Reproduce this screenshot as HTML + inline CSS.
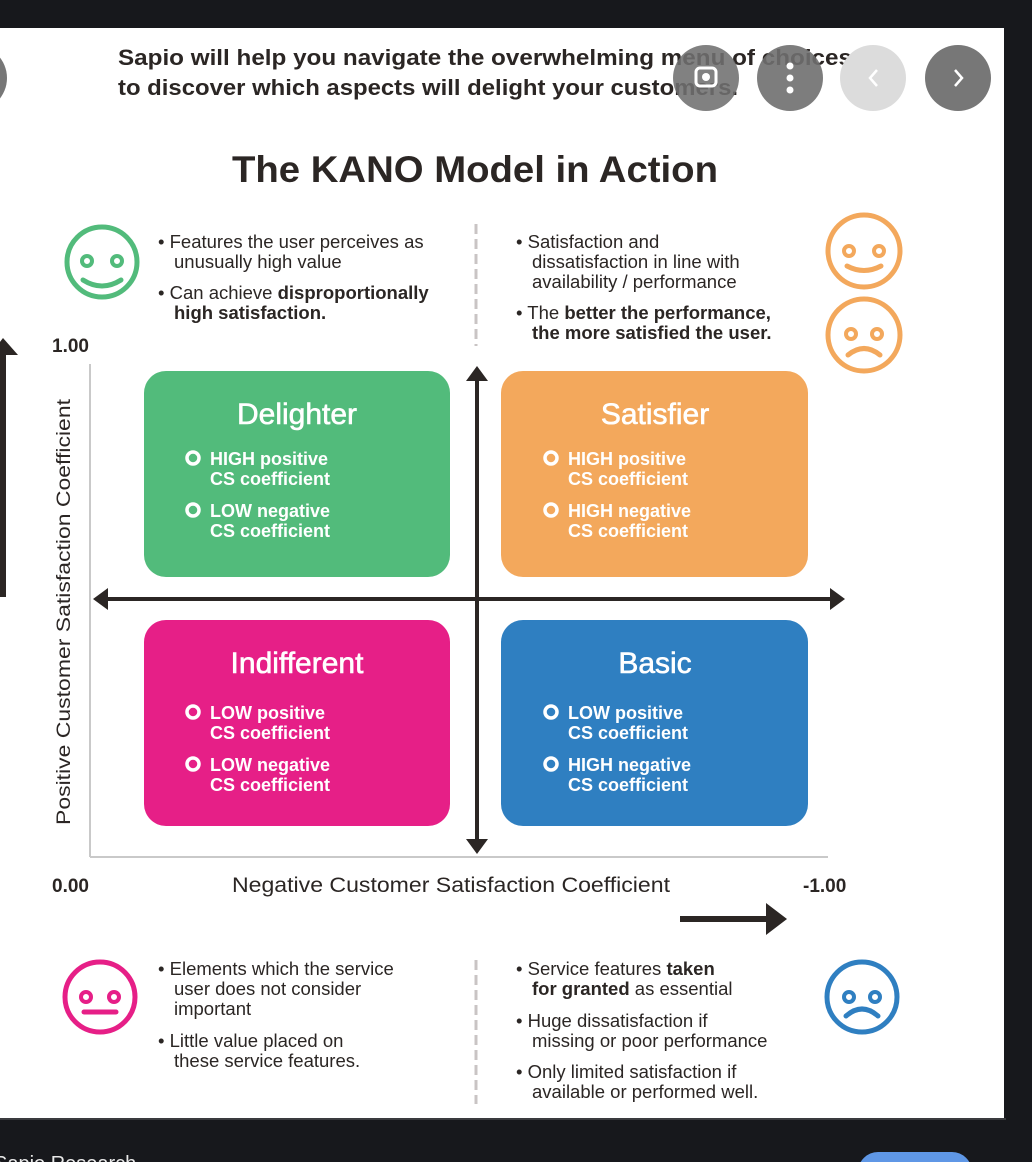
<!DOCTYPE html>
<html><head><meta charset="utf-8"><style>
html,body{margin:0;padding:0;background:#17181c;}
svg{display:block;}
text{font-family:"Liberation Sans",sans-serif;}
</style></head><body>
<svg width="1032" height="1162" viewBox="0 0 1032 1162" xmlns="http://www.w3.org/2000/svg">
<rect x="0" y="0" width="1032" height="1162" fill="#17181c"/>
<rect x="0" y="28" width="1004" height="1090" fill="#ffffff"/>
<rect x="0" y="1118" width="1006" height="2" fill="#3a3b3f"/>

<!-- header text -->
<g fill="#2b2624" font-weight="bold" font-size="22">
<text x="118" y="65" textLength="734" lengthAdjust="spacingAndGlyphs">Sapio will help you navigate the overwhelming menu of choices</text>
<text x="118" y="95" textLength="620" lengthAdjust="spacingAndGlyphs">to discover which aspects will delight your customers.</text>
</g>
<!-- overlay buttons -->
<circle cx="-26" cy="78" r="33" fill="#777"/>
<circle cx="706" cy="78" r="33" fill="#6f6f6f" opacity="0.88"/>
<rect x="696" y="68" width="20" height="18" rx="4" fill="none" stroke="#fff" stroke-width="3"/>
<circle cx="706" cy="77" r="4" fill="#fff"/>
<circle cx="790" cy="78" r="33" fill="#6f6f6f" opacity="0.9"/>
<circle cx="790" cy="66" r="3.5" fill="#fff"/><circle cx="790" cy="78" r="3.5" fill="#fff"/><circle cx="790" cy="90" r="3.5" fill="#fff"/>
<circle cx="873" cy="78" r="33" fill="#dcdcdc"/>
<path d="M877 70 L870 78 L877 86" fill="none" stroke="#fff" stroke-width="2.5"/>
<circle cx="958" cy="78" r="33" fill="#777"/>
<path d="M955 70 L962 78 L955 86" fill="none" stroke="#fff" stroke-width="2.5"/>

<text x="475" y="182" text-anchor="middle" font-size="37" fill="#2b2624" font-weight="bold" textLength="486" lengthAdjust="spacingAndGlyphs">The KANO Model in Action</text>

<!-- smileys -->
<g fill="none" stroke-width="5" stroke-linecap="round">
<circle cx="102" cy="262" r="35" stroke="#52bb7b"/>
<path d="M83 280 Q102 292 121 280" stroke="#52bb7b"/>
<circle cx="864" cy="251" r="36" stroke="#f3a85c"/>
<path d="M847 266 Q864 275 881 266" stroke="#f3a85c"/>
<circle cx="864" cy="335" r="36" stroke="#f3a85c"/>
<path d="M848 355 Q864 342 880 355" stroke="#f3a85c"/>
<circle cx="100" cy="997" r="35" stroke="#e61f87"/>
<path d="M84 1012 L116 1012" stroke="#e61f87"/>
<circle cx="862" cy="997" r="35" stroke="#2f7fc1"/>
<path d="M846 1016 Q862 1002 878 1016" stroke="#2f7fc1"/>
</g>
<g>
<circle cx="87" cy="261" r="5" fill="none" stroke="#52bb7b" stroke-width="4"/><circle cx="117" cy="261" r="5" fill="none" stroke="#52bb7b" stroke-width="4"/>
<circle cx="849" cy="251" r="5" fill="none" stroke="#f3a85c" stroke-width="4"/><circle cx="879" cy="251" r="5" fill="none" stroke="#f3a85c" stroke-width="4"/>
<circle cx="851" cy="334" r="5" fill="none" stroke="#f3a85c" stroke-width="4"/><circle cx="877" cy="334" r="5" fill="none" stroke="#f3a85c" stroke-width="4"/>
<circle cx="86" cy="997" r="5" fill="none" stroke="#e61f87" stroke-width="4"/><circle cx="114" cy="997" r="5" fill="none" stroke="#e61f87" stroke-width="4"/>
<circle cx="849" cy="997" r="5" fill="none" stroke="#2f7fc1" stroke-width="4"/><circle cx="875" cy="997" r="5" fill="none" stroke="#2f7fc1" stroke-width="4"/>
</g>

<!-- dashed separators -->
<line x1="476" y1="224" x2="476" y2="346" stroke="#c9c4c4" stroke-width="3" stroke-dasharray="10,5"/>
<line x1="476" y1="960" x2="476" y2="1104" stroke="#c9c4c4" stroke-width="3" stroke-dasharray="10,5"/>

<!-- top bullets -->
<g font-size="18.5" fill="#2b2624">
<text x="158" y="248">• Features the user perceives as</text>
<text x="174" y="268">unusually high value</text>
<text x="158" y="299">• Can achieve <tspan font-weight="bold">disproportionally</tspan></text>
<text x="174" y="319" font-weight="bold">high satisfaction.</text>
<text x="516" y="248">• Satisfaction and</text>
<text x="532" y="268">dissatisfaction in line with</text>
<text x="532" y="288">availability / performance</text>
<text x="516" y="319">• The <tspan font-weight="bold">better the performance,</tspan></text>
<text x="532" y="339" font-weight="bold">the more satisfied the user.</text>

<text x="158" y="975">• Elements which the service</text>
<text x="174" y="995">user does not consider</text>
<text x="174" y="1015">important</text>
<text x="158" y="1047">• Little value placed on</text>
<text x="174" y="1067">these service features.</text>
<text x="516" y="975">• Service features <tspan font-weight="bold">taken</tspan></text>
<text x="532" y="995"><tspan font-weight="bold">for granted</tspan> as essential</text>
<text x="516" y="1027">• Huge dissatisfaction if</text>
<text x="532" y="1047">missing or poor performance</text>
<text x="516" y="1078">• Only limited satisfaction if</text>
<text x="532" y="1098">available or performed well.</text>
</g>

<!-- axis labels -->
<g font-size="19" fill="#2b2624">
<text x="52" y="352" font-weight="bold">1.00</text>
<text x="52" y="892" font-weight="bold">0.00</text>
<text x="803" y="892" font-weight="bold">-1.00</text>
<text x="451" y="892" text-anchor="middle" font-size="21" textLength="438" lengthAdjust="spacingAndGlyphs">Negative Customer Satisfaction Coefficient</text>
<text transform="translate(70,612) rotate(-90)" text-anchor="middle" textLength="426" lengthAdjust="spacingAndGlyphs">Positive Customer Satisfaction Coefficient</text>
</g>

<!-- left big arrow -->
<line x1="3" y1="352" x2="3" y2="597" stroke="#2b2624" stroke-width="6"/>
<polygon points="-10,355 3,338 18,355" fill="#2b2624"/>
<!-- bottom arrow -->
<line x1="680" y1="919" x2="770" y2="919" stroke="#2b2624" stroke-width="6"/>
<polygon points="766,903 787,919 766,935" fill="#2b2624"/>

<!-- gray axes -->
<line x1="90" y1="364" x2="90" y2="857" stroke="#c9c9c9" stroke-width="2"/>
<line x1="90" y1="857" x2="828" y2="857" stroke="#c9c9c9" stroke-width="2"/>

<!-- boxes -->
<rect x="144" y="371" width="306" height="206" rx="22" fill="#52bb7b"/>
<rect x="501" y="371" width="307" height="206" rx="22" fill="#f3a85c"/>
<rect x="144" y="620" width="306" height="206" rx="22" fill="#e61f87"/>
<rect x="501" y="620" width="307" height="206" rx="22" fill="#2f7fc1"/>

<g fill="#fff">
<g font-size="30" text-anchor="middle" stroke="#fff" stroke-width="0.6">
<text x="297" y="424">Delighter</text>
<text x="655" y="424">Satisfier</text>
<text x="297" y="673">Indifferent</text>
<text x="655" y="673">Basic</text>
</g>
<g font-size="18" font-weight="bold">
<text x="210" y="465">HIGH positive</text><text x="210" y="485">CS coefficient</text>
<text x="210" y="517">LOW negative</text><text x="210" y="537">CS coefficient</text>
<text x="568" y="465">HIGH positive</text><text x="568" y="485">CS coefficient</text>
<text x="568" y="517">HIGH negative</text><text x="568" y="537">CS coefficient</text>
<text x="210" y="719">LOW positive</text><text x="210" y="739">CS coefficient</text>
<text x="210" y="771">LOW negative</text><text x="210" y="791">CS coefficient</text>
<text x="568" y="719">LOW positive</text><text x="568" y="739">CS coefficient</text>
<text x="568" y="771">HIGH negative</text><text x="568" y="791">CS coefficient</text>
</g>
</g>
<g fill="none" stroke="#fff" stroke-width="3.5">
<circle cx="193" cy="458" r="6"/><circle cx="193" cy="510" r="6"/>
<circle cx="551" cy="458" r="6"/><circle cx="551" cy="510" r="6"/>
<circle cx="193" cy="712" r="6"/><circle cx="193" cy="764" r="6"/>
<circle cx="551" cy="712" r="6"/><circle cx="551" cy="764" r="6"/>
</g>

<!-- main axes -->
<line x1="477" y1="375" x2="477" y2="845" stroke="#2b2624" stroke-width="4"/>
<polygon points="466,381 477,366 488,381" fill="#2b2624"/>
<polygon points="466,839 477,854 488,839" fill="#2b2624"/>
<line x1="102" y1="599" x2="836" y2="599" stroke="#2b2624" stroke-width="4"/>
<polygon points="108,588 93,599 108,610" fill="#2b2624"/>
<polygon points="830,588 845,599 830,610" fill="#2b2624"/>

<!-- bottom chrome -->
<text x="-6" y="1170" font-size="20" fill="#e8e8e8">Sapio Research</text>
<rect x="858" y="1152" width="114" height="40" rx="20" fill="#5f97e6"/>
</svg>
</body></html>
